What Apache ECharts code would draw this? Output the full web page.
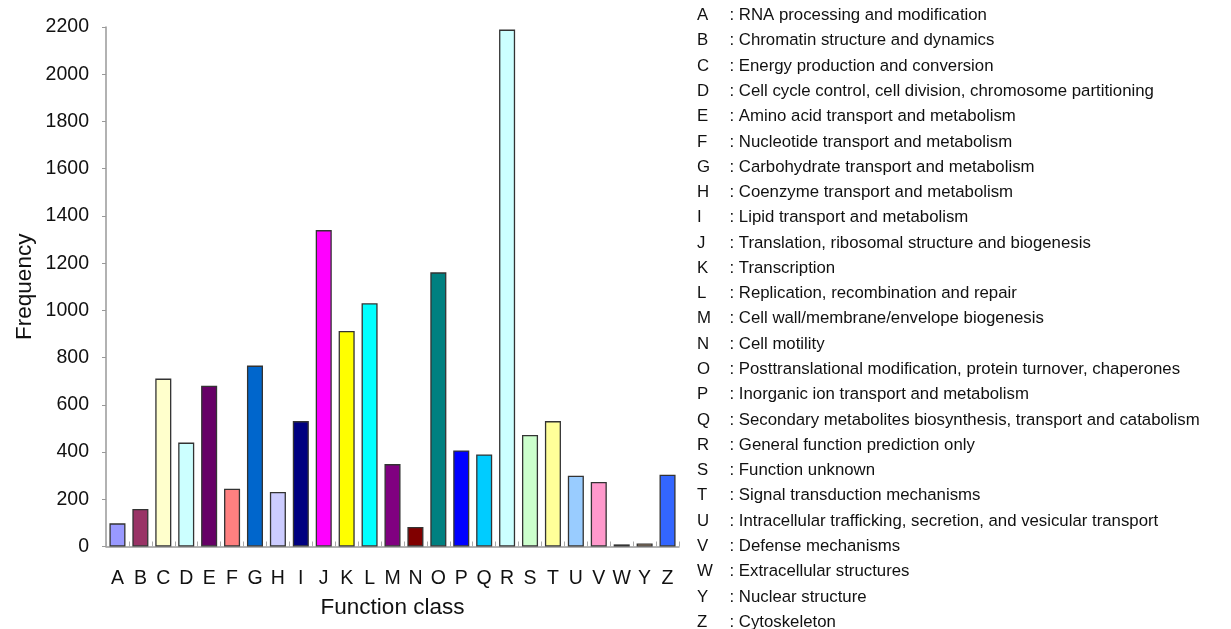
<!DOCTYPE html>
<html>
<head>
<meta charset="utf-8">
<script src="https://cdn.jsdelivr.net/npm/echarts@6/dist/echarts.min.js"></script>
<style>html,body{margin:0;padding:0;background:#fff;}#c{width:1231px;height:629px;}</style>
</head>
<body>
<div id="c"></div>
<script>
const categories = ['A','B','C','D','E','F','G','H','I','J','K','L','M','N','O','P','Q','R','S','T','U','V','W','Y','Z'];
const frequencies = [98,159,711,440,681,245,766,231,531,1340,913,1030,349,83,1161,407,390,2189,472,531,300,273,9,13,304];
const barColors = ['#9999FF','#993366','#FFFFCC','#CCFFFF','#660066','#FF8080','#0066CC','#CCCCFF','#000080','#FF00FF','#FFFF00','#00FFFF','#800080','#800000','#008080','#0000FF','#00CCFF','#CCFFFF','#CCFFCC','#FFFF99','#99CCFF','#FF99CC','#333366','#FFCC99','#3366FF'];
const descriptions = [
 'RNA processing and modification',
 'Chromatin structure and dynamics',
 'Energy production and conversion',
 'Cell cycle control, cell division, chromosome partitioning',
 'Amino acid transport and metabolism',
 'Nucleotide transport and metabolism',
 'Carbohydrate transport and metabolism',
 'Coenzyme transport and metabolism',
 'Lipid transport and metabolism',
 'Translation, ribosomal structure and biogenesis',
 'Transcription',
 'Replication, recombination and repair',
 'Cell wall/membrane/envelope biogenesis',
 'Cell motility',
 'Posttranslational modification, protein turnover, chaperones',
 'Inorganic ion transport and metabolism',
 'Secondary metabolites biosynthesis, transport and catabolism',
 'General function prediction only',
 'Function unknown',
 'Signal transduction mechanisms',
 'Intracellular trafficking, secretion, and vesicular transport',
 'Defense mechanisms',
 'Extracellular structures',
 'Nuclear structure',
 'Cytoskeleton'
];
const yTicks = [0,200,400,600,800,1000,1200,1400,1600,1800,2000,2200];

const FONT = '"Liberation Sans", Arial, sans-serif';
const chart = echarts.init(document.getElementById('c'), null, {renderer:'canvas'});

const legendItems = [];
categories.forEach((c, i) => {
  const y = 15.5 + i * 25.28;
  legendItems.push({type:'text', style:{x:697, y:y, text:c, verticalAlign:'middle', font:'16.8px '+FONT, fill:'#111'}});
  legendItems.push({type:'text', style:{x:729.5, y:y, text:': ' + descriptions[i], verticalAlign:'middle', font:'16.8px '+FONT, fill:'#111'}});
});

chart.setOption({
  backgroundColor:'#fff',
  animation:false,
  grid:{left:106, right:552, top:27, bottom:82.5, containLabel:false},
  xAxis:{
    type:'category',
    data:categories,
    boundaryGap:true,
    name:'Function class',
    nameLocation:'middle',
    nameGap:50,
    nameTextStyle:{fontSize:22.5, fontFamily:FONT, color:'#111'},
    axisLine:{lineStyle:{color:'#999', width:1.5}},
    axisTick:{show:true, inside:true, length:5, lineStyle:{color:'#aaa'}},
    axisLabel:{fontSize:19.5, fontFamily:FONT, color:'#111', margin:22, interval:0}
  },
  yAxis:{
    type:'value',
    min:yTicks[0], max:yTicks[yTicks.length-1], interval:200,
    name:'Frequency',
    nameLocation:'middle',
    nameGap:70,
    nameRotate:90,
    nameTextStyle:{fontSize:22.5, fontFamily:FONT, color:'#111'},
    axisLine:{show:true, lineStyle:{color:'#999', width:1.5}},
    axisTick:{show:true, length:4, lineStyle:{color:'#999'}},
    splitLine:{show:false},
    axisLabel:{fontSize:19.5, fontFamily:FONT, color:'#111', margin:17, formatter:(v)=>String(v)}
  },
  series:[{
    type:'bar',
    data:frequencies.map((v,i)=>({value:v, itemStyle:{color:barColors[i]}})),
    barWidth:'70%',
    itemStyle:{borderColor:'#333', borderWidth:1.3}
  }],
  graphic:legendItems
});
</script>
</body>
</html>
